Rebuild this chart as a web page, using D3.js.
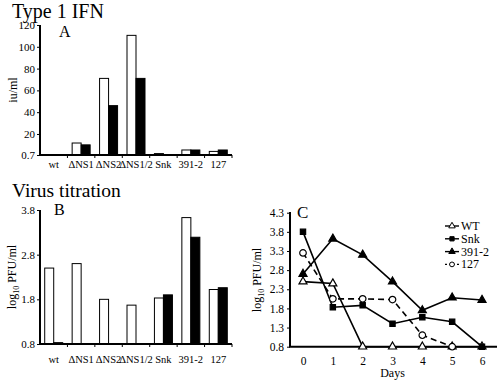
<!DOCTYPE html>
<html>
<head>
<meta charset="utf-8">
<script src="https://cdn.jsdelivr.net/npm/d3@7"></script>
<style>
  body { margin: 0; background: #fff; }
  svg text { font-family: "Liberation Serif", "DejaVu Serif", serif; fill: #000; }
</style>
</head>
<body>
<div id="chart"></div>
<script>
// strains on the bar panels
const strains = ["wt", "ΔNS1", "ΔNS2", "ΔNS1/2", "Snk", "391-2", "127"];

// panel A - type 1 IFN (iu/ml)
const ifnOpen   = [null, 11.7, 71, 110.5, 2, 5.3, 4];
const ifnFilled = [null, 10, 46, 71, null, 5.3, 5.3];
const ifnTicks  = [0.7, 20, 40, 60, 80, 100, 120];

// panel B - virus titration (log10 PFU/ml)
const titerOpen   = [2.5, 2.6, 1.8, 1.67, 1.83, 3.63, 2.02];
const titerFilled = [0.83, null, null, null, 1.9, 3.19, 2.06];
const titerTicks  = [0.8, 1.8, 2.8, 3.8];

// panel C - time course
const days = [0, 1, 2, 3, 4, 5, 6];
const wtSeries   = [2.5, 2.45, 0.8, 0.8, 0.8, 0.8, 0.8];
const snkSeries  = [3.8, 1.83, 1.88, 1.4, 1.57, 1.45, 0.8];
const s3912      = [2.7, 3.62, 3.2, 2.5, 1.75, 2.08, 2.02];
const s127       = [3.25, 2.05, 2.05, 2.03, 1.1, 0.8];
const cTicks     = [0.8, 1.3, 1.8, 2.3, 2.8, 3.3, 3.8, 4.3];

const svg = d3.select("#chart").append("svg")
    .attr("width", 501)
    .attr("height", 384);

function barPanel(opts) {
    let x = d3.scaleBand().domain(strains).range([40, 232]);
    let y = d3.scaleLinear().domain(opts.domain).range([opts.bottom, opts.top]);
    let g = svg.append("g");
    let bw = 9;

    // bars: open first, filled next to it
    let pairs = [];
    strains.forEach((s, i) => {
        if (opts.open[i] != null) pairs.push({s: s, v: opts.open[i], fill: "#fff", dx: -bw});
        if (opts.filled[i] != null) pairs.push({s: s, v: opts.filled[i], fill: "#000", dx: 0});
    });
    g.selectAll("rect.bar")
        .data(pairs)
        .enter()
        .append("rect")
        .attr("class", "bar")
        .attr("x", d => x(d.s) + x.bandwidth() / 2 + d.dx)
        .attr("y", d => y(d.v))
        .attr("width", bw)
        .attr("height", d => y(opts.domain[0]) - y(d.v))
        .attr("fill", d => d.fill)
        .attr("stroke", "#000")
        .attr("stroke-width", 1);

    // y axis
    let yAxis = d3.axisLeft(y).tickValues(opts.ticks).tickSize(3).tickFormat(d => d);
    let ya = g.append("g").attr("transform", "translate(40,0)").call(yAxis);
    ya.select(".domain").attr("stroke-width", 2).attr("d", `M0,${opts.top}V${opts.bottom}`);
    ya.selectAll("text").style("font-size", opts.tickFont + "px").attr("x", -5);

    // x baseline with small ticks between strains
    g.append("line")
        .attr("x1", 39).attr("x2", 232)
        .attr("y1", opts.bottom).attr("y2", opts.bottom)
        .attr("stroke", "#000").attr("stroke-width", 2);
    let bounds = strains.map(s => x(s)).concat([x.range()[1]]);
    g.selectAll("line.sep")
        .data(bounds.slice(1))
        .enter()
        .append("line")
        .attr("class", "sep")
        .attr("x1", d => d).attr("x2", d => d)
        .attr("y1", opts.bottom).attr("y2", opts.bottom + 3)
        .attr("stroke", "#000");

    g.selectAll("text.cat")
        .data(strains)
        .enter()
        .append("text")
        .attr("class", "cat")
        .attr("x", d => x(d) + x.bandwidth() / 2)
        .attr("y", opts.labelY)
        .attr("text-anchor", "middle")
        .style("font-size", "10.5px")
        .text(d => d);

    g.append("text")
        .attr("x", 12).attr("y", opts.titleY)
        .style("font-size", opts.titleFont + "px")
        .text(opts.title);

    g.append("text")
        .attr("x", opts.letterX).attr("y", opts.letterY)
        .style("font-size", "16px")
        .text(opts.letter);

    return g;
}

let gA = barPanel({
    domain: [0.7, 120], top: 25, bottom: 155, ticks: ifnTicks, tickFont: 11,
    open: ifnOpen, filled: ifnFilled, labelY: 168,
    title: "Type 1 IFN", titleY: 18, titleFont: 20, letter: "A", letterX: 59, letterY: 37
});
gA.append("text")
    .attr("transform", "translate(17,90) rotate(-90)")
    .attr("text-anchor", "middle")
    .style("font-size", "12px")
    .text("iu/ml");

let gB = barPanel({
    domain: [0.8, 3.8], top: 210, bottom: 344, ticks: titerTicks, tickFont: 11,
    open: titerOpen, filled: titerFilled, labelY: 363,
    title: "Virus titration", titleY: 197, titleFont: 19.5, letter: "B", letterX: 54, letterY: 215
});

function logLabel(g, x, y) {
    let t = g.append("text")
        .attr("transform", `translate(${x},${y}) rotate(-90)`)
        .attr("text-anchor", "middle")
        .style("font-size", "12px");
    t.append("tspan").text("log");
    t.append("tspan").attr("dy", 3).style("font-size", "8px").text("10");
    t.append("tspan").attr("dy", -3).text(" PFU/ml");
}
logLabel(gB, 16, 277);

// panel C
let xC = d3.scaleLinear().domain([0, 6]).range([303, 482]);
let yC = d3.scaleLinear().domain([0.8, 4.3]).range([346.7, 212.7]);
let gC = svg.append("g");

let yAxC = gC.append("g").attr("transform", "translate(290,0)")
    .call(d3.axisLeft(yC).tickValues(cTicks).tickSize(3).tickFormat(d3.format(".1f")));
yAxC.select(".domain").attr("stroke-width", 2).attr("d", "M0,212V346.7");
yAxC.selectAll("text").style("font-size", "11.5px").attr("x", -6);

let xAxC = gC.append("g").attr("transform", "translate(0,346.7)")
    .call(d3.axisBottom(xC).tickValues(days).tickSize(0).tickPadding(10).tickFormat(d => d));
xAxC.select(".domain").attr("stroke-width", 2).attr("d", "M289,0H497");
xAxC.selectAll("text").style("font-size", "11.5px");

gC.append("text")
    .attr("x", xC(3)).attr("y", 377)
    .attr("text-anchor", "middle")
    .style("font-size", "12px")
    .text("Days");
logLabel(gC, 261, 280);
gC.append("text").attr("x", 297).attr("y", 218).style("font-size", "17px").text("C");

const series = [
    {name: "WT", values: wtSeries, shape: d3.symbolTriangle, fill: "#fff", dash: null},
    {name: "Snk", values: snkSeries, shape: d3.symbolSquare, fill: "#000", dash: null},
    {name: "391-2", values: s3912, shape: d3.symbolTriangle, fill: "#000", dash: null},
    {name: "127", values: s127, shape: d3.symbolCircle, fill: "#fff", dash: "6,4"}
];

let line = d3.line().x((d, i) => xC(days[i])).y(d => yC(d));

series.forEach((s, k) => {
    gC.append("path")
        .datum(s.values)
        .attr("d", line)
        .attr("fill", "none")
        .attr("stroke", "#000")
        .attr("stroke-width", 1.6)
        .attr("stroke-dasharray", s.dash);

    gC.selectAll("path.m" + k)
        .data(s.values)
        .enter()
        .append("path")
        .attr("class", "m" + k)
        .attr("transform", (d, i) => `translate(${xC(days[i])},${yC(d)})`)
        .attr("d", d3.symbol().type(s.shape).size(s.shape === d3.symbolCircle ? 34 : 28))
        .attr("fill", s.fill)
        .attr("stroke", "#000")
        .attr("stroke-width", 1.2);

    // legend
    let ly = 226 + k * 12.8;
    gC.append("line")
        .attr("x1", 445).attr("x2", 459).attr("y1", ly).attr("y2", ly)
        .attr("stroke", "#000").attr("stroke-width", 1.4)
        .attr("stroke-dasharray", s.dash ? "2,2" : null);
    gC.append("path")
        .attr("transform", `translate(452,${ly})`)
        .attr("d", d3.symbol().type(s.shape).size(18))
        .attr("fill", s.fill).attr("stroke", "#000");
    gC.append("text")
        .attr("x", 461).attr("y", ly + 4)
        .style("font-size", "12px")
        .text(s.name);
});
</script>
</body>
</html>
